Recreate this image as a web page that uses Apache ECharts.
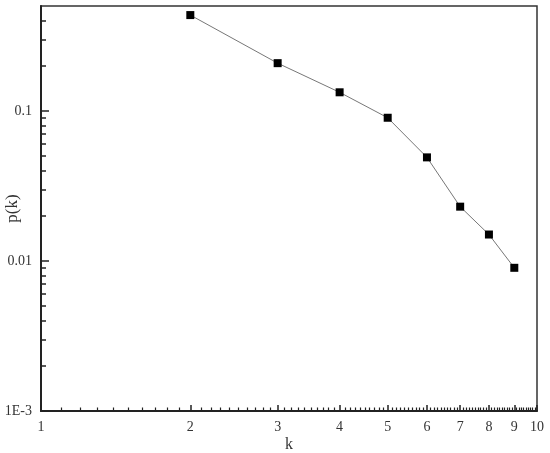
<!DOCTYPE html>
<html>
<head>
<meta charset="utf-8">
<script src="https://cdn.jsdelivr.net/npm/echarts@6/dist/echarts.min.js"></script>
<style>
  html, body { margin: 0; padding: 0; background: #fff; }
  #chart { width: 550px; height: 453px; }
</style>
</head>
<body>
<div id="chart"></div>
<script>
// degree distribution
const kValues = [2, 3, 4, 5, 6, 7, 8, 9]
const pValues = [0.435, 0.208, 0.133, 0.090, 0.049, 0.023, 0.015, 0.009]

const xMajorTicks = [1, 2, 3, 4, 5, 6, 7, 8, 9, 10]
const xMinorTicks = [
  1.1, 1.2, 1.3, 1.4, 1.5, 1.6, 1.7, 1.8, 1.9,
  2.1, 2.2, 2.3, 2.4, 2.5, 2.6, 2.7, 2.8, 2.9,
  3.1, 3.2, 3.3, 3.4, 3.5, 3.6, 3.7, 3.8, 3.9,
  4.1, 4.2, 4.3, 4.4, 4.5, 4.6, 4.7, 4.8, 4.9,
  5.1, 5.2, 5.3, 5.4, 5.5, 5.6, 5.7, 5.8, 5.9,
  6.1, 6.2, 6.3, 6.4, 6.5, 6.6, 6.7, 6.8, 6.9,
  7.1, 7.2, 7.3, 7.4, 7.5, 7.6, 7.7, 7.8, 7.9,
  8.1, 8.2, 8.3, 8.4, 8.5, 8.6, 8.7, 8.8, 8.9,
  9.1, 9.2, 9.3, 9.4, 9.5, 9.6, 9.7, 9.8, 9.9
]
const yMajorTicks = [0.001, 0.01, 0.1]
const yMajorLabels = ['1E-3', '0.01', '0.1']
const yMinorTicks = [
  0.002, 0.003, 0.004, 0.005, 0.006, 0.007, 0.008, 0.009,
  0.02, 0.03, 0.04, 0.05, 0.06, 0.07, 0.08, 0.09,
  0.2, 0.3, 0.4
]

const font = 'Liberation Serif'
const axisColor = '#222'
const textColor = '#333'

const chart = echarts.init(document.getElementById('chart'))

function yLabel(v) {
  let best = 0
  yMajorTicks.forEach((t, i) => {
    if (Math.abs(Math.log10(t) - Math.log10(v)) < Math.abs(Math.log10(yMajorTicks[best]) - Math.log10(v))) best = i
  })
  return yMajorLabels[best]
}

chart.setOption({
  animation: false,
  backgroundColor: '#fff',
  grid: {
    left: 41, right: 13, top: 6, bottom: 42,
    outerBoundsMode: 'none', containLabel: false,
    show: true, borderColor: '#333', borderWidth: 1.5
  },
  xAxis: [
    {
      type: 'log', min: 1, max: 10,
      name: 'k', nameLocation: 'middle', nameGap: 26, nameMoveOverlap: false,
      nameTextStyle: { fontFamily: font, fontSize: 16, color: textColor },
      axisLine: { lineStyle: { color: axisColor, width: 2 } },
      axisTick: { inside: true, length: 6, customValues: xMajorTicks, lineStyle: { color: axisColor, width: 1.5 } },
      axisLabel: {
        customValues: xMajorTicks, margin: 9,
        fontFamily: font, fontSize: 14, color: textColor,
        formatter: (v) => String(Math.round(v))
      },
      splitLine: { show: false }
    },
    {
      type: 'log', min: 1, max: 10, position: 'bottom',
      axisLine: { show: false },
      axisTick: { inside: true, length: 3.5, customValues: xMinorTicks, lineStyle: { color: axisColor, width: 1.2 } },
      axisLabel: { show: false },
      splitLine: { show: false }
    }
  ],
  yAxis: [
    {
      type: 'log', min: 0.001, max: 0.5,
      name: 'p(k)', nameLocation: 'middle', nameGap: 20, nameRotate: 90, nameMoveOverlap: false,
      nameTextStyle: { fontFamily: font, fontSize: 17, color: textColor },
      axisLine: { lineStyle: { color: axisColor, width: 2 } },
      axisTick: { inside: true, length: 8, customValues: yMajorTicks, lineStyle: { color: axisColor, width: 1.5 } },
      axisLabel: {
        customValues: yMajorTicks, margin: 9,
        fontFamily: font, fontSize: 14, color: textColor,
        formatter: yLabel
      },
      splitLine: { show: false }
    },
    {
      type: 'log', min: 0.001, max: 0.5, position: 'left',
      axisLine: { show: false },
      axisTick: { inside: true, length: 5, customValues: yMinorTicks, lineStyle: { color: axisColor, width: 1.5 } },
      axisLabel: { show: false },
      splitLine: { show: false }
    }
  ],
  series: [
    {
      type: 'line',
      xAxisIndex: 0,
      yAxisIndex: 0,
      data: kValues.map((k, i) => [k, pValues[i]]),
      symbol: 'rect',
      symbolSize: 8,
      lineStyle: { color: '#777', width: 1 },
      itemStyle: { color: '#000' }
    }
  ]
})
</script>
</body>
</html>
